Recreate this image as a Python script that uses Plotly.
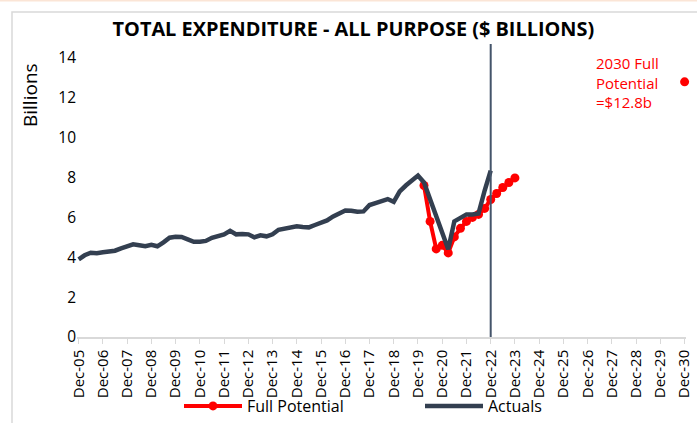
import plotly.graph_objects as go

# ---------------- data ----------------
# quarterly observations (year, month) -> value in $ billions
actual_start_year = 2005
actual_values = [
    3.90, 4.10, 4.23, 4.20, 4.25, 4.30, 4.33, 4.45, 4.57, 4.65, 4.60, 4.55,
    4.62, 4.55, 4.75, 4.98, 5.03, 5.02, 4.90, 4.78, 4.78, 4.82, 4.98, 5.05,
    5.15, 5.33, 5.15, 5.17, 5.15, 5.00, 5.10, 5.05, 5.15, 5.38, 5.45, 5.50,
    5.55, 5.52, 5.50, 5.62, 5.72, 5.85, 6.05, 6.20, 6.35, 6.33, 6.28, 6.30,
    6.62, 6.72, 6.80, 6.92, 6.78, 7.30, 7.60, 7.85, 8.10, 7.75, 6.90, 6.05,
    5.20, 4.40, 5.80, 5.95, 6.15, 6.15, 6.20, 7.35, 8.35,
]
potential_values = [
    7.60, 5.80, 4.42, 4.60, 4.22, 5.02, 5.45, 5.80, 6.00, 6.15, 6.45, 6.90,
    7.20, 7.50, 7.75, 7.98,
]
potential_start_index = 57          # quarter index (from Dec-05) of first Full Potential point
target_label = "2030 Full<br>Potential<br>=$12.8b"
target_date = "2030-12-15"
target_value = 12.8
cutoff_date = "2022-12-15"
cutoff_top = 14.7
tick_years = list(range(2005, 2031))
tick_labels = ["Dec-%02d" % (y % 100) for y in tick_years]


def quarter_date(i):
    m = 12 + 3 * i
    y = actual_start_year + (m - 1) // 12
    mm = (m - 1) % 12 + 1
    return "%04d-%02d-15" % (y, mm)


actual_dates = [quarter_date(i) for i in range(len(actual_values))]
potential_dates = [quarter_date(potential_start_index + i) for i in range(len(potential_values))]
tick_vals = ["%04d-12-15" % y for y in tick_years]

# ---------------- figure ----------------
FONT = "Open Sans, Liberation Sans, sans-serif"
RED = "#ff0000"
DARK = "#333f50"

W, H = 697, 423
ML, MR, MT, MB = 77, 11, 44, 86

fig = go.Figure()
fig.add_trace(go.Scatter(
    x=potential_dates, y=potential_values, name="Full Potential",
    mode="lines+markers", line=dict(color=RED, width=4),
    marker=dict(color=RED, size=9),
))
fig.add_trace(go.Scatter(
    x=actual_dates, y=actual_values, name="Actuals",
    mode="lines", line=dict(color=DARK, width=4.5),
))
fig.add_trace(go.Scatter(
    x=[target_date], y=[target_value], mode="markers",
    marker=dict(color=RED, size=9), showlegend=False, cliponaxis=False,
))

fig.add_shape(type="line", xref="x", yref="y", x0=cutoff_date, x1=cutoff_date,
              y0=0, y1=cutoff_top, line=dict(color="#44546a", width=2))

# chart border (Excel chart area)
pw, ph = W - ML - MR, H - MT - MB
def px_x(p): return (p - ML) / pw
def px_y(p): return (H - MB - p) / ph
fig.add_shape(type="rect", xref="paper", yref="paper",
              x0=px_x(12), x1=px_x(705), y0=px_y(12), y1=px_y(440),
              line=dict(color="#d9d9d9", width=1.5), layer="below")
fig.add_shape(type="line", xref="paper", yref="paper",
              x0=px_x(0), x1=px_x(697), y0=px_y(0.5), y1=px_y(0.5),
              line=dict(color="#fbe5d6", width=2), layer="below")

fig.add_annotation(text=target_label, xref="paper", yref="paper",
                   x=px_x(594), y=px_y(51), xanchor="left", yanchor="top",
                   align="left", showarrow=False,
                   font=dict(family=FONT, size=15, color=RED))
fig.add_annotation(text="Billions", xref="paper", yref="paper",
                   x=px_x(30), y=px_y(95), xanchor="center", yanchor="middle",
                   textangle=-90, showarrow=False,
                   font=dict(family=FONT, size=19, color="black"))

fig.update_layout(
    width=W, height=H,
    margin=dict(l=ML, r=MR, t=MT, b=MB, autoexpand=False),
    paper_bgcolor="white", plot_bgcolor="white",
    title=dict(text="<b>TOTAL EXPENDITURE - ALL PURPOSE ($ BILLIONS)</b>",
               x=0.507, xanchor="center", y=0.931, yanchor="middle",
               xref="container", yref="container",
               font=dict(family=FONT, size=19.9, color="black")),
    font=dict(family=FONT, size=14, color="black"),
    showlegend=True,
    legend=dict(orientation="h", x=px_x(179), xanchor="left", y=-0.022, yanchor="bottom",
                yref="container", font=dict(family=FONT, size=16, color="black"),
                itemwidth=58, entrywidth=168, bgcolor="rgba(0,0,0,0)"),
    xaxis=dict(type="date", range=["2005-11-20", "2031-01-05"], automargin=False,
               tickvals=tick_vals, ticktext=tick_labels, tickangle=-90,
               showgrid=False, zeroline=False, showline=True, linecolor="#d9d9d9",
               linewidth=1.5, ticks="outside", ticklen=5, tickcolor="#d9d9d9",
               tickfont=dict(family=FONT, size=15, color="black")),
    yaxis=dict(range=[0, 14.7], tickvals=[0, 2, 4, 6, 8, 10, 12, 14], automargin=False,
               showgrid=False, zeroline=False, showline=False, ticks="",
               tickfont=dict(family=FONT, size=15.5, color="black")),
)

fig.write_html("out.html", config={"displayModeBar": False},
               post_script="document.body.style.margin='0';document.body.style.overflow='hidden';")
